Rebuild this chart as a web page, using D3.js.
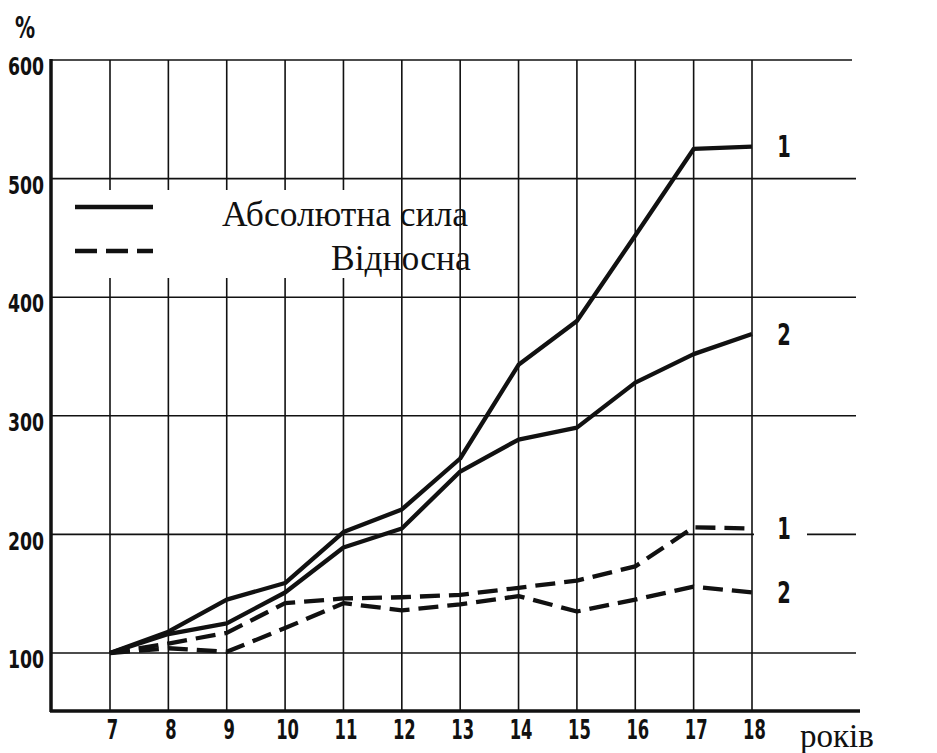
<!DOCTYPE html>
<html>
<head>
<meta charset="utf-8">
<script src="https://cdn.jsdelivr.net/npm/d3@7"></script>
<style>
  body { margin: 0; background: #fff; }
  .tick-lbl { font-family: "Liberation Sans Narrow", "DejaVu Sans Condensed", sans-serif; font-weight: bold; fill: #111; }
  .serif { font-family: "Liberation Serif", "DejaVu Serif", serif; fill: #111; }
</style>
</head>
<body>
<svg id="chart" width="937" height="753"></svg>
<script>
// ages (years) and values in % of the age-7 level
var ages = [7, 8, 9, 10, 11, 12, 13, 14, 15, 16, 17, 18];
var abs1 = [100, 118, 145, 159, 202, 221, 264, 343, 380, 452, 525, 527];
var abs2 = [100, 116, 125, 151, 189, 205, 253, 280, 290, 328, 352, 369];
var rel1 = [100, 108, 117, 142, 146, 147, 149, 155, 161, 173, 206, 205];
var rel2 = [100, 104, 101, 121, 142, 136, 141, 148, 135, 145, 156, 151];
var yTicks = [100, 200, 300, 400, 500, 600];
var curveLabels = ["1", "2", "1", "2"];
var legendLabels = ["Абсолютна сила", "Відносна"];

const svg = d3.select("#chart");

const plotLeft = 51, plotRight = 856, plotTop = 60, plotBottom = 711;

var x = d3.scaleLinear().domain([7, 18]).range([110, 752]);
var y = d3.scaleLinear().domain([100, 600]).range([653, plotTop]);
var yBottom = y.invert(plotBottom);

// vertical grid
svg.append("g").selectAll("line")
  .data(ages)
  .enter().append("line")
  .attr("x1", d => x(d)).attr("x2", d => x(d))
  .attr("y1", plotTop).attr("y2", plotBottom)
  .attr("stroke", "#111").attr("stroke-width", 1.6);

// horizontal grid
svg.append("g").selectAll("line")
  .data(yTicks)
  .enter().append("line")
  .attr("x1", plotLeft).attr("x2", d => d === 600 ? 852 : plotRight)
  .attr("y1", d => y(d)).attr("y2", d => y(d))
  .attr("stroke", "#111").attr("stroke-width", 1.6);

// left axis and bottom axis lines (thick)
svg.append("line")
  .attr("x1", plotLeft).attr("x2", plotLeft).attr("y1", plotTop - 1).attr("y2", plotBottom + 1)
  .attr("stroke", "#111").attr("stroke-width", 3.5);
svg.append("line")
  .attr("x1", plotLeft - 1).attr("x2", 860).attr("y1", y(yBottom)).attr("y2", y(yBottom))
  .attr("stroke", "#111").attr("stroke-width", 3.5);

// y tick labels (narrow, tall digits like the print)
var yAxis = svg.append("g")
  .attr("transform", `translate(${plotLeft - 7},7)`)
  .call(d3.axisLeft(y).tickValues(yTicks).tickSize(0).tickFormat(d3.format("d")));
yAxis.select(".domain").remove();
yAxis.selectAll("text")
  .attr("class", "tick-lbl")
  .attr("font-size", 24)
  .attr("x", 0)
  .attr("transform", "scale(0.8,1)");

// x tick labels
var xAxis = svg.append("g")
  .attr("transform", `translate(2,${plotBottom + 7})`)
  .call(d3.axisBottom(x).tickValues(ages).tickSize(0).tickFormat(d3.format("d")));
xAxis.select(".domain").remove();
xAxis.selectAll("text")
  .attr("class", "tick-lbl")
  .attr("font-size", 26)
  .attr("transform", "scale(0.7,1)");

// axis captions
svg.append("text").attr("class", "tick-lbl")
  .attr("transform", "translate(15,38) scale(0.72,1)")
  .attr("font-size", 31).text("%");
svg.append("text").attr("class", "serif")
  .attr("x", 800).attr("y", 747).attr("font-size", 33).text("років");

// legend box (covers the grid)
svg.append("rect")
  .attr("x", plotLeft + 2).attr("y", 190).attr("width", 343).attr("height", 88)
  .attr("fill", "#fff");

var line = d3.line()
  .x((d, i) => x(ages[i]))
  .y(d => y(d));

var series = [
  { values: abs1, dash: null },
  { values: abs2, dash: null },
  { values: rel1, dash: "20,9" },
  { values: rel2, dash: "20,9" }
];

svg.append("g").selectAll("path")
  .data(series)
  .enter().append("path")
  .attr("d", d => line(d.values))
  .attr("fill", "none")
  .attr("stroke", "#111")
  .attr("stroke-width", 4.3)
  .attr("stroke-linejoin", "round")
  .attr("stroke-dasharray", d => d.dash);

// curve numbers at right
var lab = svg.append("g").selectAll("g")
  .data(series)
  .enter().append("g")
  .attr("transform", d => `translate(${x(18) + 32},${y(d.values[d.values.length - 1])})`);
lab.append("rect")
  .attr("x", -30).attr("y", -12).attr("width", 53).attr("height", 24)
  .attr("fill", "#fff");
lab.append("text")
  .attr("class", "tick-lbl")
  .attr("font-size", 30)
  .attr("text-anchor", "middle")
  .attr("dy", "0.36em")
  .attr("transform", "scale(0.72,1)")
  .text((d, i) => curveLabels[i]);

// legend
var legend = svg.append("g");
legend.selectAll("line")
  .data([null, "22,9"])
  .enter().append("line")
  .attr("x1", 75).attr("x2", 153)
  .attr("y1", (d, i) => 207 + i * 44).attr("y2", (d, i) => 207 + i * 44)
  .attr("stroke", "#111").attr("stroke-width", 4.5)
  .attr("stroke-dasharray", d => d);
legend.selectAll("text")
  .data(legendLabels)
  .enter().append("text")
  .attr("class", "serif")
  .attr("font-size", 35.5)
  .attr("x", (d, i) => i === 0 ? 222 : 331)
  .attr("y", (d, i) => 226 + i * 44)
  .text(d => d);
</script>
</body>
</html>
